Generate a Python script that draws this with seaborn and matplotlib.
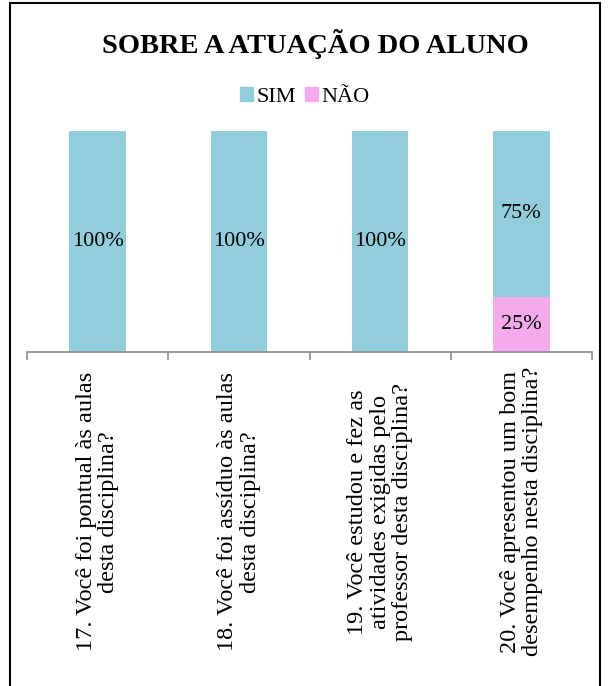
import matplotlib
matplotlib.use("Agg")
import matplotlib.pyplot as plt
import seaborn as sns
import pandas as pd
from matplotlib.patches import Rectangle

categories = [
    "17. Você foi pontual às aulas\ndesta disciplina?",
    "18. Você foi assíduo às aulas\ndesta disciplina?",
    "19. Você estudou e fez as\natividades exigidas pelo\nprofessor desta disciplina?",
    "20. Você apresentou um bom\ndesempenho nesta disciplina?",
]
sim = [100, 100, 100, 75]
nao = [0, 0, 0, 25]
series_names = ["SIM", "NÃO"]
colors = ["#92CDDC", "#F5AAEE"]

sns.set_theme(style="white")
plt.rcParams["font.family"] = ["Liberation Serif", "DejaVu Serif"]
plt.rcParams["text.color"] = "black"
plt.rcParams["xtick.color"] = "black"

fig = plt.figure(figsize=(6.11, 6.86), dpi=100)
ax = fig.add_axes([27/611, 334/686, 565/611, (555-334)/686])

total = [s + n for s, n in zip(sim, nao)]
df = pd.DataFrame({"cat": categories, "total": total, "sim": sim, "nao": nao})

sns.barplot(data=df, x="cat", y="total", color=colors[0], width=0.4,
            saturation=1, ax=ax, linewidth=0)
sns.barplot(data=df, x="cat", y="nao", color=colors[1], width=0.4,
            saturation=1, ax=ax, linewidth=0)

ax.set_ylim(0, 100)
ax.set_xlim(-0.5, len(categories) - 0.5)
ax.set_xlabel("")
ax.set_ylabel("")
ax.set_yticks([])
for s in ["top", "right", "left"]:
    ax.spines[s].set_visible(False)
ax.spines["bottom"].set_color("#8c8c8c")
ax.spines["bottom"].set_linewidth(1.2)

# data labels
for i, (s, n) in enumerate(zip(sim, nao)):
    if s > 0:
        ax.text(i, n + s / 2, f"{s}%", ha="center", va="center", fontsize=16, color="black")
    if n > 0:
        ax.text(i, n / 2, f"{n}%", ha="center", va="center", fontsize=16, color="black")

# ticks
ax.set_xticks(range(len(categories)))
ax.set_xticklabels(categories, rotation=90, ha="center", va="center",
                   multialignment="center", fontsize=17.5, color="black",
                   linespacing=1.1)
ax.tick_params(axis="x", which="major", length=0, pad=115)
ax.set_xticks([i - 0.5 for i in range(len(categories) + 1)], minor=True)
ax.tick_params(axis="x", which="minor", length=6, width=1.2, color="#8c8c8c", direction="out", bottom=True)

# title and legend
fig.text(315/611, 1 - 44/686, "SOBRE A ATUAÇÃO DO ALUNO", ha="center", va="center",
         fontsize=20.5, fontweight="bold", color="black")
handles = [Rectangle((0, 0), 1, 1, color=c) for c in colors]
fig.legend(handles, series_names, loc="center", bbox_to_anchor=(305/611, 1 - 97/686),
           ncol=2, frameon=False, fontsize=16, handlelength=0.6, handleheight=0.6,
           handletextpad=0.15, columnspacing=0.4, borderpad=0, labelcolor="black")

# border
fig.patches.append(Rectangle((10/611, -0.05), 590/611, 1.05 - 3/686, transform=fig.transFigure,
                             fill=False, edgecolor="black", linewidth=1.5))

fig.savefig("out.png", dpi=100)
